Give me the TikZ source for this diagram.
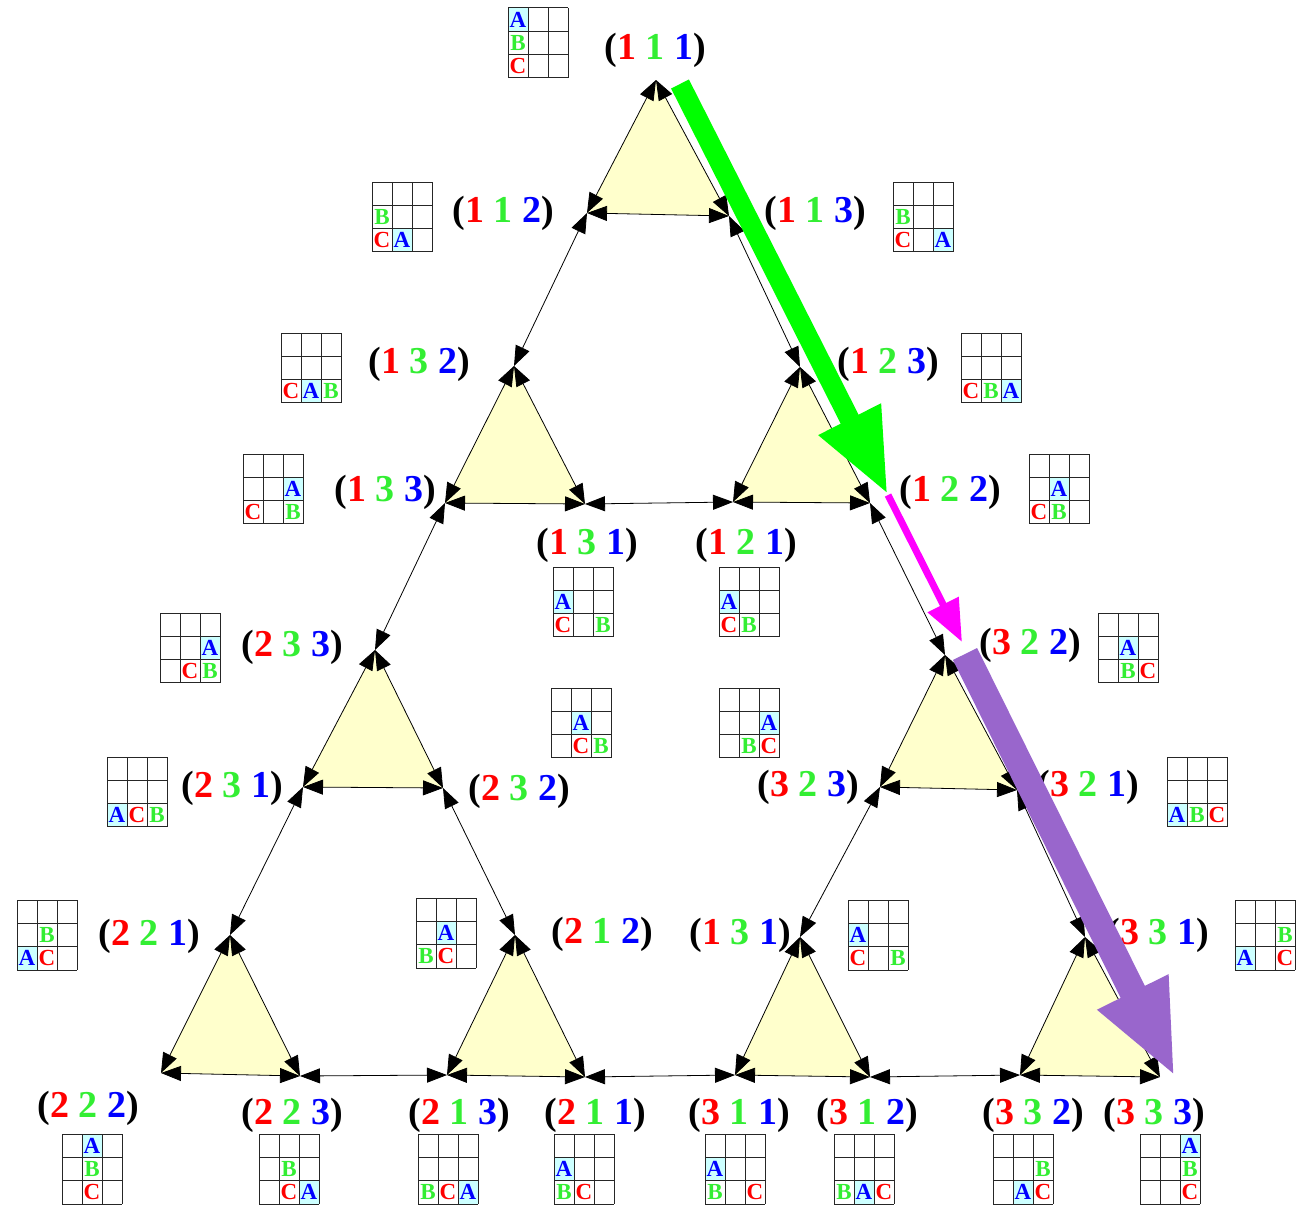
\documentclass[tikz,border=0pt]{standalone}
\usepackage{fontspec}
\setmainfont{Liberation Serif}
\usetikzlibrary{arrows.meta}
\definecolor{cR}{HTML}{FF0000}
\definecolor{cG}{HTML}{33EE33}
\definecolor{cB}{HTML}{0000FF}
\definecolor{triFill}{HTML}{FFFFCC}
\definecolor{cellFill}{HTML}{CCFFFF}
\definecolor{bigGreen}{HTML}{00FF00}
\definecolor{bigMag}{HTML}{FF00FF}
\definecolor{bigPurple}{HTML}{9966CC}
\tikzset{
  lab/.style={font=\fontsize{38}{40}\selectfont\bfseries, inner sep=0pt},
  gl/.style={font=\fontsize{23}{25}\selectfont\bfseries, inner sep=0pt},
  gridline/.style={line width=1pt, black!85},
  edge/.style={line width=0.8pt, {Triangle[length=20pt,width=15pt]}-{Triangle[length=20pt,width=15pt]}},
  trifill/.style={fill=triFill, draw=none},
}
\newcommand{\tri}[3]{(\textcolor{cR}{#1} \textcolor{cG}{#2} \textcolor{cB}{#3})}
% #1 name, #2 x, #3 y (top-left), #4 colA, #5 rowA, #6 colB, #7 rowB, #8 colC, #9 rowC
\newcommand{\hgrid}[9]{%
  \fill[cellFill] ({#2+(#4-1)*20},{#3+(3-#5)*23.33}) rectangle +(20,23.33);
  \foreach \i in {0,...,3}{%
    \draw[gridline] ({#2+\i*20},#3) -- +(0,70);
    \draw[gridline] (#2,{#3+\i*23.33}) -- +(60,0);
  }
  \node[gl,text=cB] (#1A) at ({#2+(#4-0.5)*20},{#3+(3.5-#5)*23.33}) {A};
  \node[gl,text=cG] (#1B) at ({#2+(#6-0.5)*20},{#3+(3.5-#7)*23.33}) {B};
  \node[gl,text=cR] (#1C) at ({#2+(#8-0.5)*20},{#3+(3.5-#9)*23.33}) {C};
}
\begin{document}
\begin{tikzpicture}[x=1pt,y=-1pt]
\useasboundingbox[fill=white] (0,0) rectangle (1301,1207);
% vertices
\coordinate (T1t) at (656,80);  \coordinate (T1l) at (587,213); \coordinate (T1r) at (729,216);
\coordinate (T2t) at (514,366); \coordinate (T2l) at (445,503); \coordinate (T2r) at (585,504);
\coordinate (T3t) at (800,367); \coordinate (T3l) at (733,502); \coordinate (T3r) at (870,503);
\coordinate (L1t) at (375,650); \coordinate (L1l) at (303,787); \coordinate (L1r) at (443,788);
\coordinate (R1t) at (945,655); \coordinate (R1l) at (880,787); \coordinate (R1r) at (1017,790);
\coordinate (L2t) at (230,935); \coordinate (L2l) at (161,1073); \coordinate (L2r) at (300,1076);
\coordinate (L3t) at (515,935); \coordinate (L3l) at (447,1075); \coordinate (L3r) at (585,1077);
\coordinate (R2t) at (800,937); \coordinate (R2l) at (735,1075); \coordinate (R2r) at (870,1077);
\coordinate (R3t) at (1085,937); \coordinate (R3l) at (1020,1075); \coordinate (R3r) at (1160,1077);
% small triangles
\foreach \t in {T1,T2,T3,L1,R1,L2,L3,R2,R3}{
  \fill[trifill] (\t t) -- (\t l) -- (\t r) -- cycle;
  \draw[edge] (\t t) -- (\t l);
  \draw[edge] (\t t) -- (\t r);
  \draw[edge] (\t l) -- (\t r);
}
% connecting edges
\draw[edge] (T1l) -- (T2t);
\draw[edge] (T1r) -- (T3t);
\draw[edge] (T2r) -- (T3l);
\draw[edge] (T2l) -- (L1t);
\draw[edge] (T3r) -- (R1t);
\draw[edge] (L1l) -- (L2t);
\draw[edge] (L1r) -- (L3t);
\draw[edge] (R1l) -- (R2t);
\draw[edge] (R1r) -- (R3t);
\draw[edge] (L2r) -- (L3l);
\draw[edge] (L3r) -- (R2l);
\draw[edge] (R2r) -- (R3l);
% labels
\node[lab] (l111) at (655,50) {\tri111};
\node[lab] (l112) at (503,213) {\tri112};
\node[lab] (l113) at (815,213) {\tri113};
\node[lab] (l132) at (419,364) {\tri132};
\node[lab] (l123) at (888,364) {\tri123};
\node[lab] (l133) at (385,492) {\tri133};
\node[lab] (l122) at (950,492) {\tri122};
\node[lab] (l131a) at (587,545) {\tri131};
\node[lab] (l121) at (746,545) {\tri121};
\node[lab] (l233) at (292,647) {\tri233};
\node[lab] (l322) at (1030,645) {\tri322};
\node[lab] (l231) at (232,788) {\tri231};
\node[lab] (l232) at (519,791) {\tri232};
\node[lab] (l323) at (808,787) {\tri323};
\node[lab] (l321) at (1088,787) {\tri321};
\node[lab] (l221) at (149,936) {\tri221};
\node[lab] (l212) at (602,934) {\tri212};
\node[lab] (l131b) at (740,935) {\tri131};
\node[lab] (l331) at (1158,935) {\tri331};
\node[lab] (l222) at (88,1108) {\tri222};
\node[lab] (l223) at (292,1115) {\tri223};
\node[lab] (l213) at (459,1115) {\tri213};
\node[lab] (l211) at (595,1115) {\tri211};
\node[lab] (l311) at (739,1115) {\tri311};
\node[lab] (l312) at (867,1115) {\tri312};
\node[lab] (l332) at (1033,1115) {\tri332};
\node[lab] (l333) at (1154,1115) {\tri333};
% grids
\hgrid{ga}{508}{8}{1}{3}{1}{2}{1}{1}
\hgrid{gb}{372}{182}{2}{1}{1}{2}{1}{1}
\hgrid{gc}{893}{182}{3}{1}{1}{2}{1}{1}
\hgrid{gd}{281}{333}{2}{1}{3}{1}{1}{1}
\hgrid{ge}{961}{333}{3}{1}{2}{1}{1}{1}
\hgrid{gf}{243}{454}{3}{2}{3}{1}{1}{1}
\hgrid{gg}{1029}{454}{2}{2}{2}{1}{1}{1}
\hgrid{gh}{553}{567}{1}{2}{3}{1}{1}{1}
\hgrid{gi}{719}{567}{1}{2}{2}{1}{1}{1}
\hgrid{gj}{160}{613}{3}{2}{3}{1}{2}{1}
\hgrid{gk}{1098}{613}{2}{2}{2}{1}{3}{1}
\hgrid{gl}{551}{688}{2}{2}{3}{1}{2}{1}
\hgrid{gm}{719}{688}{3}{2}{2}{1}{3}{1}
\hgrid{gn}{107}{757}{1}{1}{3}{1}{2}{1}
\hgrid{go}{1167}{757}{1}{1}{2}{1}{3}{1}
\hgrid{gp}{17}{900}{1}{1}{2}{2}{2}{1}
\hgrid{gq}{416}{898}{2}{2}{1}{1}{2}{1}
\hgrid{gr}{848}{900}{1}{2}{3}{1}{1}{1}
\hgrid{gs}{1235}{900}{1}{1}{3}{2}{3}{1}
\hgrid{gt}{62}{1134}{2}{3}{2}{2}{2}{1}
\hgrid{gu}{259}{1134}{3}{1}{2}{2}{2}{1}
\hgrid{gv}{418}{1134}{3}{1}{1}{1}{2}{1}
\hgrid{gw}{554}{1134}{1}{2}{1}{1}{2}{1}
\hgrid{gx}{705}{1134}{1}{2}{1}{1}{3}{1}
\hgrid{gy}{834}{1134}{2}{1}{1}{1}{3}{1}
\hgrid{gz}{993}{1134}{2}{1}{3}{2}{3}{1}
\hgrid{gzz}{1140}{1134}{3}{3}{3}{2}{3}{1}
% big arrows
\coordinate (gS) at (680,84);  \coordinate (gE) at (888,495);
\coordinate (mS) at (888,495); \coordinate (mE) at (962,642);
\coordinate (pS) at (965,654); \coordinate (pE) at (1175,1077);
\draw[bigGreen, line width=20pt, -{Triangle[length=85pt,width=64pt]}] (gS) -- (gE);
\draw[bigMag, line width=7pt, -{Triangle[length=42pt,width=33pt]}] (mS) -- (mE);
\draw[bigPurple, line width=27pt, -{Triangle[length=95pt,width=72pt]}] (pS) -- (pE);
\end{tikzpicture}
\end{document}
